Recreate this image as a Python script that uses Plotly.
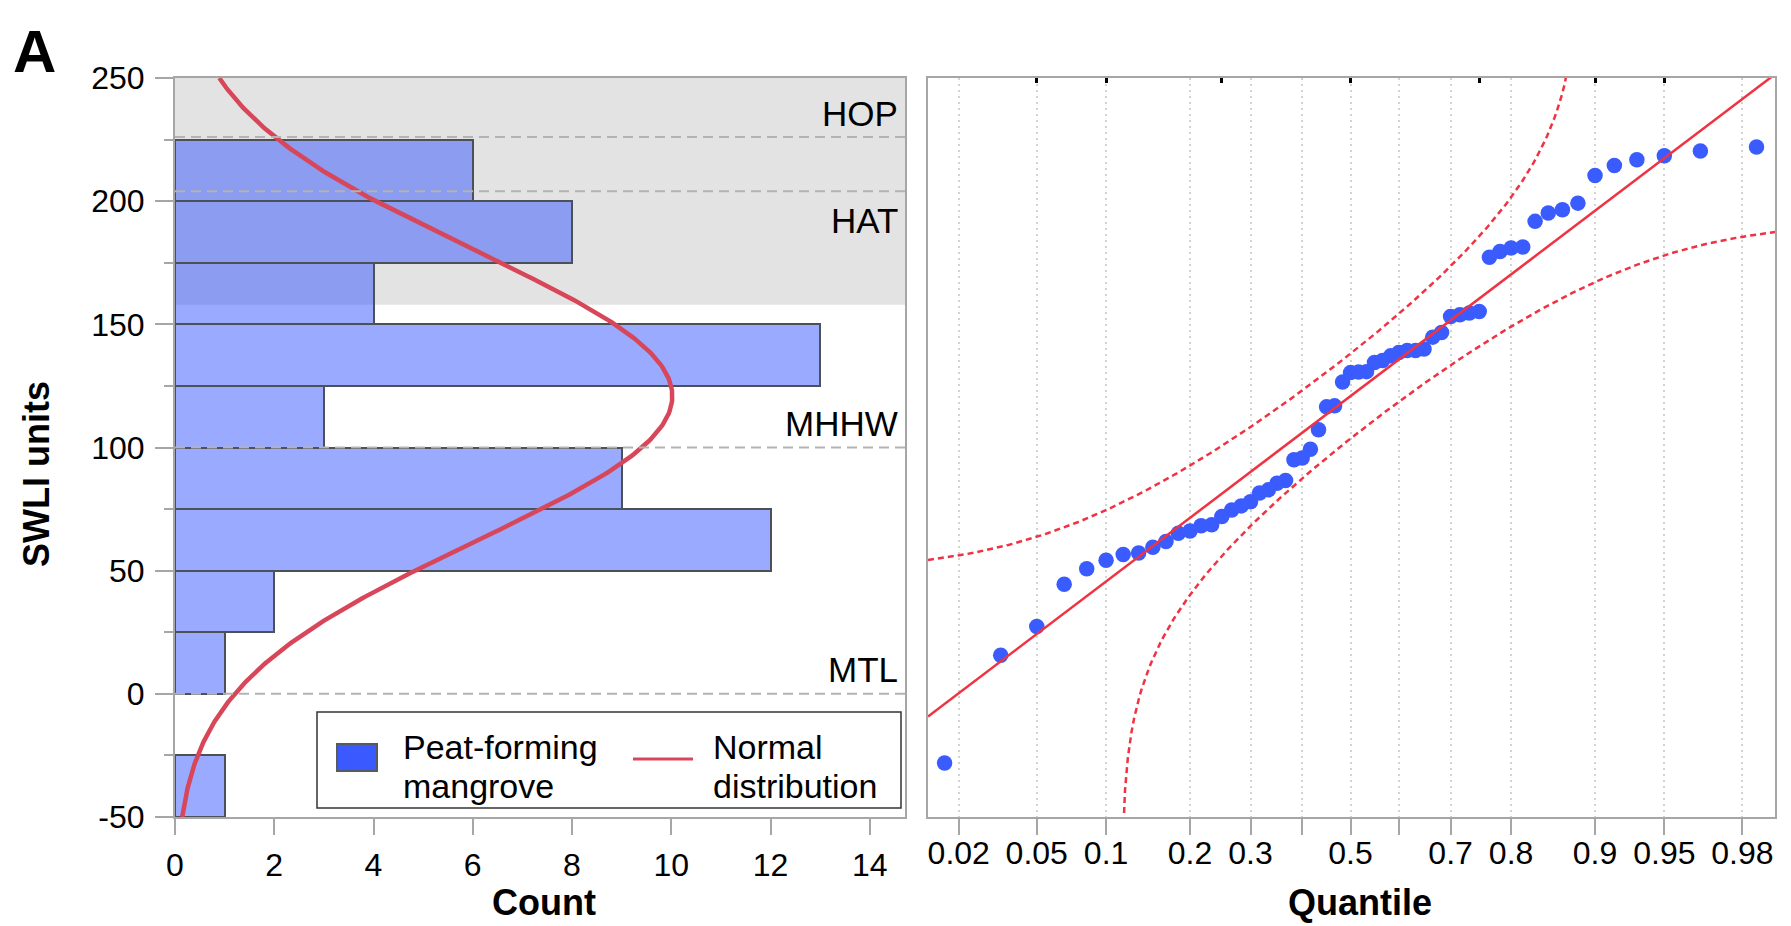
import numpy as np
from statistics import NormalDist
import plotly.graph_objects as go

# ---------------- data ----------------
swli_sorted = [-28.1, 15.7, 27.3, 44.5, 50.8, 54.2, 56.6, 57.2, 59.5, 61.8,
               65.2, 66.1, 68.2, 68.6, 72.0, 74.6, 76.3, 78.0, 81.5, 82.8,
               85.5, 86.6, 95.0, 95.7, 99.3, 107.2, 116.5, 116.9, 126.6, 130.4,
               130.6, 130.8, 134.5, 135.3, 137.2, 138.6, 139.4, 139.4, 140.0, 144.8,
               146.7, 153.2, 153.9, 154.6, 155.2, 177.2, 179.6, 181.0, 181.4, 191.8,
               195.2, 196.5, 199.2, 210.4, 214.5, 216.8, 218.4, 220.4, 222.0]

bin_low = [-50, -25, 0, 25, 50, 75, 100, 125, 150, 175, 200]
bin_counts = [1, 0, 1, 2, 12, 9, 3, 13, 4, 8, 6]
bin_width = 25

level_names = ["HOP", "HAT", "MHHW", "MTL"]
level_values = [226, 204, 100, 0]
level_label_side = ["above", "below", "above", "above"]
shade_band = [158, 250]

count_ticks = [0, 2, 4, 6, 8, 10, 12, 14]
swli_ticks = [-50, 0, 50, 100, 150, 200, 250]
swli_tick_labels = ["-50", "0", "50", "100", "150", "200", "250"]
prob_ticks = [0.02, 0.05, 0.1, 0.2, 0.3, 0.4, 0.5, 0.6, 0.7, 0.8, 0.9, 0.95, 0.98]
prob_labels = ["0.02", "0.05", "0.1", "0.2", "0.3", "", "0.5", "", "0.7", "0.8", "0.9", "0.95", "0.98"]
top_prob_ticks = [0.05, 0.1, 0.25, 0.5, 0.75, 0.9, 0.95]

# ---------------- styling ----------------
W, H = 1791, 926
FONT = "Liberation Sans, Arial, sans-serif"
GRAY = "#a6a6a6"
BAR_FILL = "rgba(51,85,255,0.5)"
BAR_LINE = "#4b5157"
CURVE_RED = "#d8465a"
QQ_RED = "#ef3342"
DOT_BLUE = "#3a5cff"
TICK_SIZE = 32
LABEL_SIZE = 35
LEGEND_SIZE = 34
TITLE_SIZE = 36


def px(xp):
    return xp / W


def py(yp):
    return 1 - yp / H


nd = NormalDist()
vals = np.array(swli_sorted)
n = len(vals)
mu = float(vals.mean())
sd = float(vals.std(ddof=1))

xL_dom = [px(175), px(905)]
y_dom = [py(817), py(78)]
xR_dom = [px(928), px(1775)]
count_range = [0, 14.71]
swli_range = [-50, 250]
z_range = [-2.215, 2.225]

fig = go.Figure()

# Histogram bars (horizontal)
bar_y = [lo + bin_width / 2 for lo, c in zip(bin_low, bin_counts) if c > 0]
bar_x = [c for c in bin_counts if c > 0]
fig.add_trace(go.Bar(
    orientation="h", y=bar_y, x=bar_x, width=bin_width,
    marker=dict(color=BAR_FILL, line=dict(color=BAR_LINE, width=2)),
    xaxis="x", yaxis="y", showlegend=False, name="Peat-forming mangrove"))

# Normal distribution curve
yy = np.linspace(swli_range[0], swli_range[1], 400)
dist = NormalDist(mu, sd)
xx = [n * bin_width * dist.pdf(v) for v in yy]
fig.add_trace(go.Scatter(
    x=xx, y=yy, mode="lines", line=dict(color=CURVE_RED, width=4.5),
    xaxis="x", yaxis="y", showlegend=False, name="Normal distribution"))

# Normal quantile plot
z_pts = [nd.inv_cdf((i + 1) / (n + 1)) for i in range(n)]
fig.add_trace(go.Scatter(
    x=z_pts, y=vals, mode="markers",
    marker=dict(color=DOT_BLUE, size=15.5, line=dict(width=0)),
    xaxis="x2", yaxis="y2", showlegend=False))

zl = np.array(z_range)
fig.add_trace(go.Scatter(
    x=zl, y=mu + sd * zl, mode="lines", line=dict(color=QQ_RED, width=2.5),
    xaxis="x2", yaxis="y2", showlegend=False))

# Lilliefors confidence bands
D = 0.886 / np.sqrt(n)
p_lo, p_hi = nd.cdf(z_range[0]), nd.cdf(z_range[1])
q_up = np.concatenate([np.linspace(p_lo + D, 0.99, 300), 1 - np.geomspace(0.01, 1e-5, 200)])
z_up = [nd.inv_cdf(q - D) for q in q_up]
y_up = [mu + sd * nd.inv_cdf(q) for q in q_up]
fig.add_trace(go.Scatter(
    x=z_up, y=y_up, mode="lines", line=dict(color=QQ_RED, width=2.5, dash="6px,4px"),
    xaxis="x2", yaxis="y2", showlegend=False))
q_lo = np.concatenate([np.geomspace(1e-5, 0.01, 200), np.linspace(0.01, p_hi - D, 300)])
z_lo = [nd.inv_cdf(q + D) for q in q_lo]
y_lo = [mu + sd * nd.inv_cdf(q) for q in q_lo]
fig.add_trace(go.Scatter(
    x=z_lo, y=y_lo, mode="lines", line=dict(color=QQ_RED, width=2.5, dash="6px,4px"),
    xaxis="x2", yaxis="y2", showlegend=False))

# invisible trace so the top (quantile-box) tick axis is drawn
top_z = [nd.inv_cdf(p) for p in top_prob_ticks]
fig.add_trace(go.Scatter(
    x=top_z, y=[None] * len(top_z), mode="markers", marker=dict(opacity=0),
    xaxis="x3", yaxis="y2", showlegend=False, hoverinfo="skip"))

# ---------------- shapes ----------------
shapes = []
shapes.append(dict(type="rect", xref="x domain", yref="y", x0=0, x1=1,
                   y0=shade_band[0], y1=shade_band[1], fillcolor="#e3e3e3",
                   line=dict(width=0), layer="below"))
for v in level_values:
    shapes.append(dict(type="line", xref="x domain", yref="y", x0=0, x1=1, y0=v, y1=v,
                       line=dict(color="#b3b3b3", width=2, dash="10px,6px"), layer="above"))

# manual legend
shapes.append(dict(type="rect", xref="paper", yref="paper", x0=px(317), x1=px(901),
                   y0=py(808), y1=py(712), fillcolor="white",
                   line=dict(color="#333333", width=1.5), layer="above"))
shapes.append(dict(type="rect", xref="paper", yref="paper", x0=px(337), x1=px(377),
                   y0=py(771), y1=py(744), fillcolor="#3a5aff",
                   line=dict(color="#555b5e", width=2), layer="above"))
shapes.append(dict(type="line", xref="paper", yref="paper", x0=px(633), x1=px(693),
                   y0=py(759), y1=py(759), line=dict(color=CURVE_RED, width=3), layer="above"))

# ---------------- annotations ----------------
ann = []
for name, v, side in zip(level_names, level_values, level_label_side):
    ann.append(dict(text=name, xref="x domain", yref="y", x=1, y=v,
                    xanchor="right", yanchor="middle",
                    xshift=-5, yshift=24 if side == "above" else -29,
                    showarrow=False, font=dict(size=LABEL_SIZE, color="black", family=FONT)))

leg_font = dict(size=LEGEND_SIZE, color="black", family=FONT)
for txt, xp_, yp_ in [("Peat-forming", 401, 747), ("mangrove", 401, 786),
                      ("Normal", 711, 747), ("distribution", 711, 786)]:
    ann.append(dict(text=txt, xref="paper", yref="paper", x=px(xp_), y=py(yp_),
                    xanchor="left", yanchor="middle", showarrow=False, font=leg_font))

ann.append(dict(text="<b>A</b>", xref="paper", yref="paper", x=px(34), y=py(51),
                xanchor="center", yanchor="middle", showarrow=False,
                font=dict(size=60, color="black", family=FONT)))
ann.append(dict(text="<b>SWLI units</b>", xref="paper", yref="paper", x=px(36), y=py(474),
                xanchor="center", yanchor="middle", textangle=-90, showarrow=False,
                font=dict(size=TITLE_SIZE, color="black", family=FONT)))
ann.append(dict(text="<b>Count</b>", xref="paper", yref="paper", x=px(544), y=py(902),
                xanchor="center", yanchor="middle", showarrow=False,
                font=dict(size=TITLE_SIZE, color="black", family=FONT)))
ann.append(dict(text="<b>Quantile</b>", xref="paper", yref="paper", x=px(1360), y=py(902),
                xanchor="center", yanchor="middle", showarrow=False,
                font=dict(size=TITLE_SIZE, color="black", family=FONT)))

tickfont = dict(size=TICK_SIZE, color="black", family=FONT)

fig.update_layout(
    width=W, height=H, autosize=False,
    margin=dict(l=0, r=0, t=0, b=0, pad=0),
    paper_bgcolor="white", plot_bgcolor="white",
    font=dict(family=FONT, color="black"),
    showlegend=False, bargap=0,
    shapes=shapes, annotations=ann,
    xaxis=dict(domain=xL_dom, anchor="y", range=count_range, automargin=False,
               tickmode="array", tickvals=count_ticks, ticks="outside", ticklen=16,
               tickwidth=2, tickcolor=GRAY, showline=True, linecolor=GRAY, linewidth=2,
               mirror=True, showgrid=False, zeroline=False, tickfont=tickfont,
               ticklabelstandoff=3),
    yaxis=dict(domain=y_dom, anchor="x", range=swli_range, automargin=False,
               tickmode="array", tickvals=swli_ticks, ticktext=swli_tick_labels,
               ticks="outside", ticklen=18,
               tickwidth=2, tickcolor=GRAY, showline=True, linecolor=GRAY, linewidth=2,
               mirror=True, showgrid=False, zeroline=False, tickfont=tickfont,
               ticklabelstandoff=4,
               minor=dict(ticks="outside", ticklen=9, tickwidth=2, tickcolor=GRAY,
                          dtick=25, tick0=-50, showgrid=False)),
    xaxis2=dict(domain=xR_dom, anchor="y2", range=z_range, automargin=False,
                tickmode="array", tickvals=[nd.inv_cdf(p) for p in prob_ticks],
                ticktext=prob_labels, ticks="outside", ticklen=16, tickwidth=2,
                tickcolor=GRAY, showline=True, linecolor=GRAY, linewidth=2, mirror=True,
                showgrid=True, gridcolor="#d2d2d2", gridwidth=2, griddash="2px,4px",
                zeroline=False, tickfont=tickfont, ticklabelstandoff=-9),
    yaxis2=dict(domain=y_dom, anchor="x2", range=swli_range, showticklabels=False,
                automargin=False,
                ticks="", showline=True, linecolor=GRAY, linewidth=2, mirror=True,
                showgrid=False, zeroline=False),
    xaxis3=dict(overlaying="x2", anchor="y2", side="top", range=z_range, automargin=False,
                tickmode="array", tickvals=top_z,
                ticks="inside", ticklen=5, tickwidth=3, tickcolor="black",
                showticklabels=False, showline=False, showgrid=False, zeroline=False),
)

fig.write_html("out.html")
